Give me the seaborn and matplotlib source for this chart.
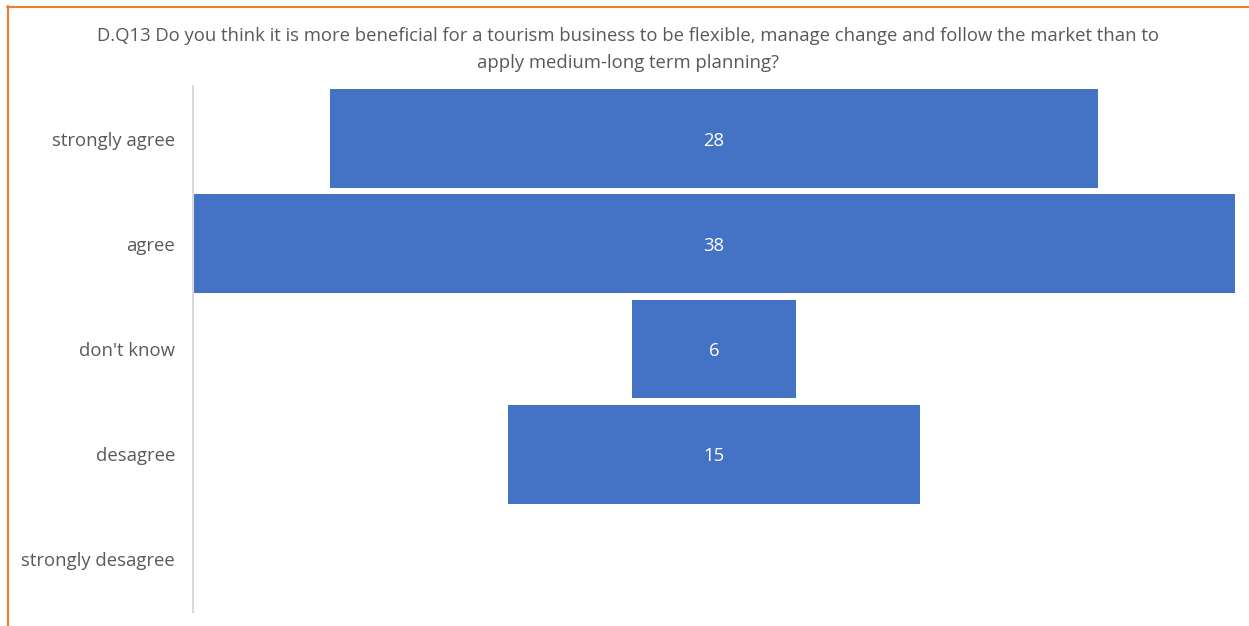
import matplotlib
matplotlib.use("Agg")
import matplotlib.pyplot as plt
import seaborn as sns
import pandas as pd
from matplotlib.lines import Line2D

categories = ["strongly agree", "agree", "don't know", "desagree", "strongly desagree"]
values = [28, 38, 6, 15, 0]
title_lines = [
    "D.Q13 Do you think it is more beneficial for a tourism business to be flexible, manage change and follow the market than to",
    "apply medium-long term planning?",
]

sns.set_theme(style="white")
plt.rcParams["font.family"] = ["Open Sans", "DejaVu Sans"]

W, H = 1249, 626
FS = 13.3
fig = plt.figure(figsize=(W / 100, H / 100), dpi=100)
ax = fig.add_axes([193 / W, 1 - 612 / H, (1235 - 193) / W, (612 - 86) / H])

df = pd.DataFrame({"category": categories, "value": values})
lefts = [-v / 2 for v in values]
sns.barplot(data=df, x="value", y="category", order=categories, orient="h",
            color="#4472C4", saturation=1, width=0.94, left=lefts,
            linewidth=0, ax=ax)

ax.set_xlim(-19, 19)
ax.set_ylim(4.5, -0.5)
ax.set_xlabel("")
ax.set_ylabel("")
ax.set_xticks([])
for s in ["top", "right", "bottom"]:
    ax.spines[s].set_visible(False)
ax.spines["left"].set_color("#D9D9D9")
ax.spines["left"].set_linewidth(1.5)
ax.tick_params(axis="y", length=0, pad=13, labelsize=FS, labelcolor="#595959")
for lbl in ax.get_yticklabels():
    lbl.set_va("center_baseline")

for i, v in enumerate(values):
    if v > 0:
        ax.text(0, i, str(v), ha="center", va="center_baseline", color="white", fontsize=FS)

fig.text(628 / W, 1 - 34 / H, title_lines[0], ha="center", va="center_baseline",
         fontsize=FS, color="#595959")
fig.text(628 / W, 1 - 61 / H, title_lines[1], ha="center", va="center_baseline",
         fontsize=FS, color="#595959")

fig.add_artist(Line2D([7 / W, 1.0], [1 - 6.5 / H, 1 - 6.5 / H], transform=fig.transFigure,
                      color="#ED7D31", linewidth=1.5))
fig.add_artist(Line2D([7.5 / W, 7.5 / W], [0, 1 - 6 / H], transform=fig.transFigure,
                      color="#ED7D31", linewidth=1.5))

fig.savefig("out.png", dpi=100)
